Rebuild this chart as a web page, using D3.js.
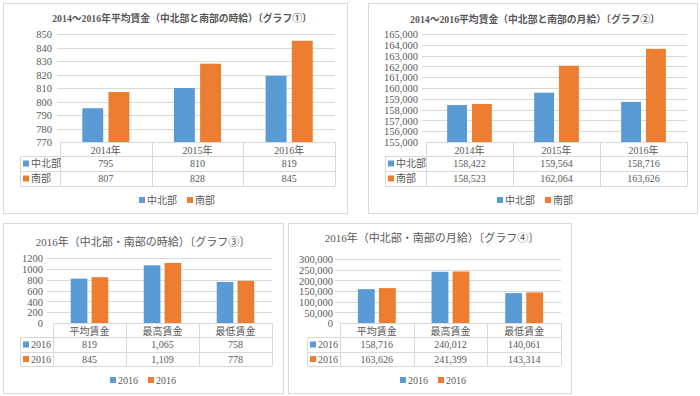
<!DOCTYPE html>
<html>
<head>
<meta charset="utf-8">
<script src="https://cdn.jsdelivr.net/npm/d3@7"></script>
<style>
  body { margin: 0; background: #fff; }
  svg { display: block; }
  text { fill: #595959; }
</style>
</head>
<body>
<svg class="vis" width="700" height="396"></svg>
<script>
// data
const years = ['2014年', '2015年', '2016年'];
const wageTypes = ['平均賃金', '最高賃金', '最低賃金'];

const regionNames = ['中北部', '南部'];
const hourly_north = [795, 810, 819];
const hourly_south = [807, 828, 845];
const monthly_north = [158422, 159564, 158716];
const monthly_south = [158523, 162064, 163626];

const seriesNames2016 = ['2016', '2016'];
const hourly2016_north = [819, 1065, 758];
const hourly2016_south = [845, 1109, 778];
const monthly2016_north = [158716, 240012, 140061];
const monthly2016_south = [163626, 241399, 143314];

const ticks1 = [770, 780, 790, 800, 810, 820, 830, 840, 850];
const ticks2 = [155000, 156000, 157000, 158000, 159000, 160000, 161000, 162000, 163000, 164000, 165000];
const ticks3 = [0, 200, 400, 600, 800, 1000, 1200];
const ticks4 = [0, 50000, 100000, 150000, 200000, 250000, 300000];

const titles = [
  '2014～2016年平均賃金（中北部と南部の時給）〔グラフ①〕',
  '2014～2016平均賃金（中北部と南部の月給）〔グラフ②〕',
  '2016年（中北部・南部の時給）〔グラフ③〕',
  '2016年（中北部・南部の月給）〔グラフ④〕'
];

const colors = ['#5b9bd5', '#ed7d31'];
const serif = '"Liberation Serif", "DejaVu Serif", "Noto Sans CJK JP", serif';
const sans = '"Noto Sans CJK JP", sans-serif';

const svg = d3.select('svg.vis');

const charts = [
  { panel: [3, 3, 347, 213], title: titles[0], titleX: 182, titleY: 22, titleSize: 9.8, bold: true,
    cats: years, names: regionNames, series: [hourly_north, hourly_south], ticks: ticks1,
    yFmt: d3.format('d'), tFmt: d3.format('d'),
    gridX: [57, 335], catX: [60, 335], yRange: [142, 34], yLabelX: 52,
    labelLeft: 20, rows: [142, 156, 171, 186], legendY: 200, legendX: 177 },
  { panel: [368, 3, 697, 213], title: titles[1], titleX: 535, titleY: 23, titleSize: 9.8, bold: true,
    cats: years, names: regionNames, series: [monthly_north, monthly_south], ticks: ticks2,
    yFmt: d3.format(','), tFmt: d3.format(','),
    gridX: [422, 687], catX: [426, 687], yRange: [142, 34], yLabelX: 418,
    labelLeft: 385, rows: [142, 156, 171, 186], legendY: 200, legendX: 535 },
  { panel: [3, 223, 283, 393], title: titles[2], titleX: 143, titleY: 246, titleSize: 11, bold: false,
    cats: wageTypes, names: seriesNames2016, series: [hourly2016_north, hourly2016_south], ticks: ticks3,
    yFmt: d3.format('d'), tFmt: d3.format(','),
    gridX: [47, 272], catX: [53, 272], yRange: [323, 258], yLabelX: 43,
    labelLeft: 20, rows: [323, 337, 352, 366], legendY: 380, legendX: 143 },
  { panel: [288, 223, 571, 393], title: titles[3], titleX: 432, titleY: 242, titleSize: 11, bold: false,
    cats: wageTypes, names: seriesNames2016, series: [monthly2016_north, monthly2016_south], ticks: ticks4,
    yFmt: d3.format(','), tFmt: d3.format(','),
    gridX: [335, 561], catX: [340, 561], yRange: [323, 259], yLabelX: 333,
    labelLeft: 307, rows: [323, 337, 352, 366], legendY: 380, legendX: 433 }
];

function drawChart(c) {
  const g = svg.append('g');
  const [px0, py0, px1, py1] = c.panel;

  g.append('rect')
    .attr('x', px0 + 0.5).attr('y', py0 + 0.5)
    .attr('width', px1 - px0).attr('height', py1 - py0)
    .attr('fill', '#fff').attr('stroke', '#d9d9d9');

  g.append('text')
    .attr('x', c.titleX).attr('y', c.titleY)
    .attr('text-anchor', 'middle')
    .attr('font-family', serif)
    .attr('font-size', c.titleSize)
    .attr('font-weight', c.bold ? 'bold' : 'normal')
    .text(c.title);

  const y = d3.scaleLinear()
    .domain([c.ticks[0], c.ticks[c.ticks.length - 1]])
    .range(c.yRange);

  const x0 = d3.scaleBand().domain(c.cats).range(c.catX);
  const x1 = d3.scaleBand().domain([0, 1]).range([0, x0.bandwidth()])
    .paddingInner(0.2).paddingOuter(0.85);

  // gridlines
  g.append('g').selectAll('line')
    .data(c.ticks.slice(1))
    .join('line')
    .attr('x1', c.gridX[0]).attr('x2', c.gridX[1])
    .attr('y1', d => Math.round(y(d)) + 0.5).attr('y2', d => Math.round(y(d)) + 0.5)
    .attr('stroke', '#d9d9d9');

  // y axis labels
  const yAxis = d3.axisLeft(y).tickValues(c.ticks).tickFormat(c.yFmt).tickSize(0).tickPadding(0);
  const ya = g.append('g').attr('transform', `translate(${c.yLabelX},0)`).call(yAxis);
  ya.select('.domain').remove();
  ya.selectAll('text')
    .attr('font-family', serif).attr('font-size', 10.5).attr('fill', '#595959')
    .attr('dy', '0.35em');

  // bars
  c.series.forEach((vals, si) => {
    g.append('g').selectAll('rect')
      .data(vals)
      .join('rect')
      .attr('x', (d, i) => x0(c.cats[i]) + x1(si))
      .attr('width', x1.bandwidth())
      .attr('y', d => y(d))
      .attr('height', d => y.range()[0] - y(d))
      .attr('fill', colors[si]);
  });

  // data table
  const r = c.rows;
  const tg = g.append('g').attr('stroke', '#d9d9d9');
  tg.append('line').attr('x1', c.catX[0]).attr('x2', c.catX[1])
    .attr('y1', r[0] + 0.5).attr('y2', r[0] + 0.5);
  r.slice(1).forEach(ry => {
    tg.append('line').attr('x1', c.labelLeft).attr('x2', c.catX[1])
      .attr('y1', ry + 0.5).attr('y2', ry + 0.5);
  });
  tg.append('line').attr('x1', c.labelLeft + 0.5).attr('x2', c.labelLeft + 0.5)
    .attr('y1', r[1]).attr('y2', r[3]);
  const colEdges = c.cats.map(d => x0(d)).concat([c.catX[1]]);
  tg.selectAll('line.col')
    .data(colEdges)
    .join('line')
    .attr('class', 'col')
    .attr('x1', d => Math.round(d) + 0.5).attr('x2', d => Math.round(d) + 0.5)
    .attr('y1', r[0]).attr('y2', r[3]);

  // header row
  g.append('g').selectAll('text')
    .data(c.cats)
    .join('text')
    .attr('x', d => x0(d) + x0.bandwidth() / 2)
    .attr('y', (r[0] + r[1]) / 2 + 1)
    .attr('dy', '0.36em')
    .attr('text-anchor', 'middle')
    .attr('font-family', serif).attr('font-size', 10)
    .text(d => d);

  // value rows
  c.series.forEach((vals, si) => {
    const cy = (r[si + 1] + r[si + 2]) / 2;
    g.append('rect')
      .attr('x', c.labelLeft + 3).attr('y', cy - 3)
      .attr('width', 6).attr('height', 6)
      .attr('fill', colors[si]);
    g.append('text')
      .attr('x', c.labelLeft + 11).attr('y', cy).attr('dy', '0.36em')
      .attr('font-family', c.names[si].match(/^\d/) ? serif : sans)
      .attr('font-size', 10)
      .text(c.names[si]);
    g.append('g').selectAll('text')
      .data(vals)
      .join('text')
      .attr('x', (d, i) => x0(c.cats[i]) + x0.bandwidth() / 2)
      .attr('y', cy).attr('dy', '0.36em')
      .attr('text-anchor', 'middle')
      .attr('font-family', serif).attr('font-size', 10)
      .text(d => c.tFmt(d));
  });

  // legend
  const lg = g.append('g');
  let lx = 0;
  c.names.forEach((n, si) => {
    lg.append('rect').attr('x', lx).attr('y', c.legendY - 3)
      .attr('width', 6).attr('height', 6).attr('fill', colors[si]);
    const t = lg.append('text').attr('x', lx + 8).attr('y', c.legendY).attr('dy', '0.36em')
      .attr('font-family', n.match(/^\d/) ? serif : sans)
      .attr('font-size', 10).text(n);
    lx += 8 + t.node().getComputedTextLength() + 10;
  });
  const lw = lx - 10;
  lg.attr('transform', `translate(${c.legendX - lw / 2},0)`);
}

charts.forEach(drawChart);
</script>
</body>
</html>
